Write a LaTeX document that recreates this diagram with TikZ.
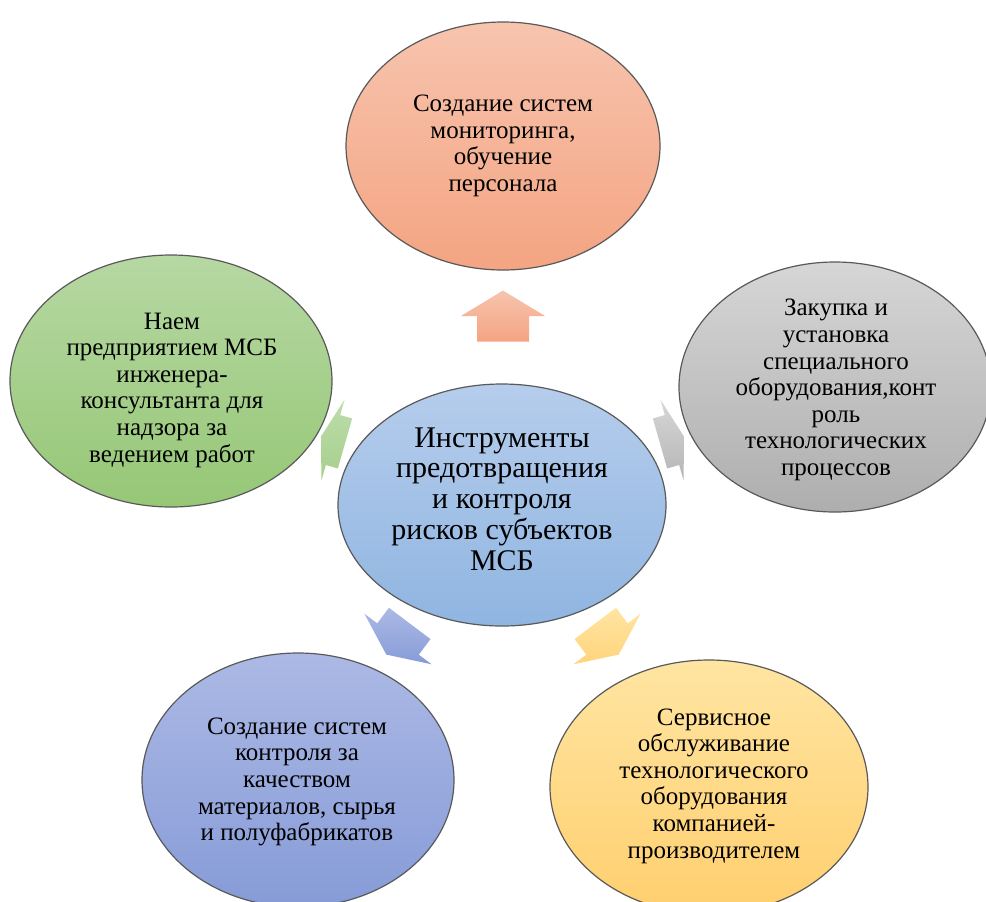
\documentclass[tikz,border=0pt]{standalone}
\usepackage{fontspec}
\setmainfont{Liberation Serif}
\usetikzlibrary{shapes.geometric}

\definecolor{salmonA}{RGB}{247,196,174}
\definecolor{salmonB}{RGB}{244,164,130}
\definecolor{greenA}{RGB}{182,216,163}
\definecolor{greenB}{RGB}{150,199,118}
\definecolor{greyA}{RGB}{214,214,214}
\definecolor{greyB}{RGB}{174,174,174}
\definecolor{blueA}{RGB}{182,205,236}
\definecolor{blueB}{RGB}{143,181,225}
\definecolor{lilacA}{RGB}{172,185,229}
\definecolor{lilacB}{RGB}{134,155,215}
\definecolor{goldA}{RGB}{255,229,162}
\definecolor{goldB}{RGB}{255,207,110}

% block arrow pointing outwards: centre, direction, length, colours
\newcommand{\spoke}[5]{%
  \begin{scope}[shift={#1}, rotate=#2]
    \shade[top color=#4, bottom color=#5]
      ({-#3/2},-26) -- (0,-26) -- (0,-42) -- ({#3/2},0)
      -- (0,42) -- (0,26) -- ({-#3/2},26) -- cycle;
  \end{scope}}

\begin{document}
\begin{tikzpicture}[x=0.5pt, y=-0.5pt]
        \tikzstyle{bubble}=[ellipse, draw=black!65, line width=0.6pt, inner sep=0pt]
        \tikzstyle{blurb}=[align=center, inner sep=0pt, font=\fontsize{12.5pt}{13.3pt}\selectfont]
        \tikzstyle{hubtext}=[blurb, font=\fontsize{15pt}{15.4pt}\selectfont]

        \useasboundingbox (0,0) rectangle (986,901);

% arrows from the middle to the five outer ellipses
        \spoke{(503,316)}{90}{51}{salmonA}{salmonB}
        \spoke{(333,440)}{164}{25}{greenA!90!white}{greenB!85!white}
        \spoke{(672,440)}{16}{25}{greyA}{greyB!90!white}
        \spoke{(398,639)}{233}{39}{lilacA}{lilacB}
        \spoke{(607,639)}{307}{39}{goldA}{goldB!90!white}

% the ellipses
        \node[bubble, top color=blueA, bottom color=blueB, minimum width=164pt, minimum height=121pt] (tools) at (502,505) {};
        \node[bubble, top color=salmonA, bottom color=salmonB, minimum width=157pt, minimum height=124pt] (monitor) at (503,146) {};
        \node[bubble, top color=greenA, bottom color=greenB, minimum width=161pt, minimum height=126pt] (engineer) at (171,381) {};
        \node[bubble, top color=greyA, bottom color=greyB, minimum width=156pt, minimum height=125pt] (equipment) at (835,387) {};
        \node[bubble, top color=lilacA, bottom color=lilacB, minimum width=156pt, minimum height=127pt] (quality) at (298,780) {};
        \node[bubble, top color=goldA, bottom color=goldB, minimum width=159pt, minimum height=127pt] (service) at (709,787) {};

% their texts
        \node[hubtext] (tools-txt) at (502,499)
                {Инструменты\\предотвращения\\и контроля\\рисков субъектов\\МСБ};
        \node[blurb] (monitor-txt) at (503,146)
                {Создание систем\\мониторинга,\\обучение\\персонала};
        \node[blurb] (engineer-txt) at (172,390)
                {Наем\\предприятием МСБ\\инженера-\\консультанта для\\надзора за\\ведением работ};
        \node[blurb] (equipment-txt) at (836,390)
                {Закупка и\\установка\\специального\\оборудования,конт\\роль\\технологических\\процессов};
        \node[blurb] (quality-txt) at (297,782)
                {Создание систем\\контроля за\\качеством\\материалов, сырья\\и полуфабрикатов};
        \node[blurb] (service-txt) at (714,786)
                {Сервисное\\обслуживание\\технологического\\оборудования\\компанией-\\производителем};

    \end{tikzpicture}
\end{document}
